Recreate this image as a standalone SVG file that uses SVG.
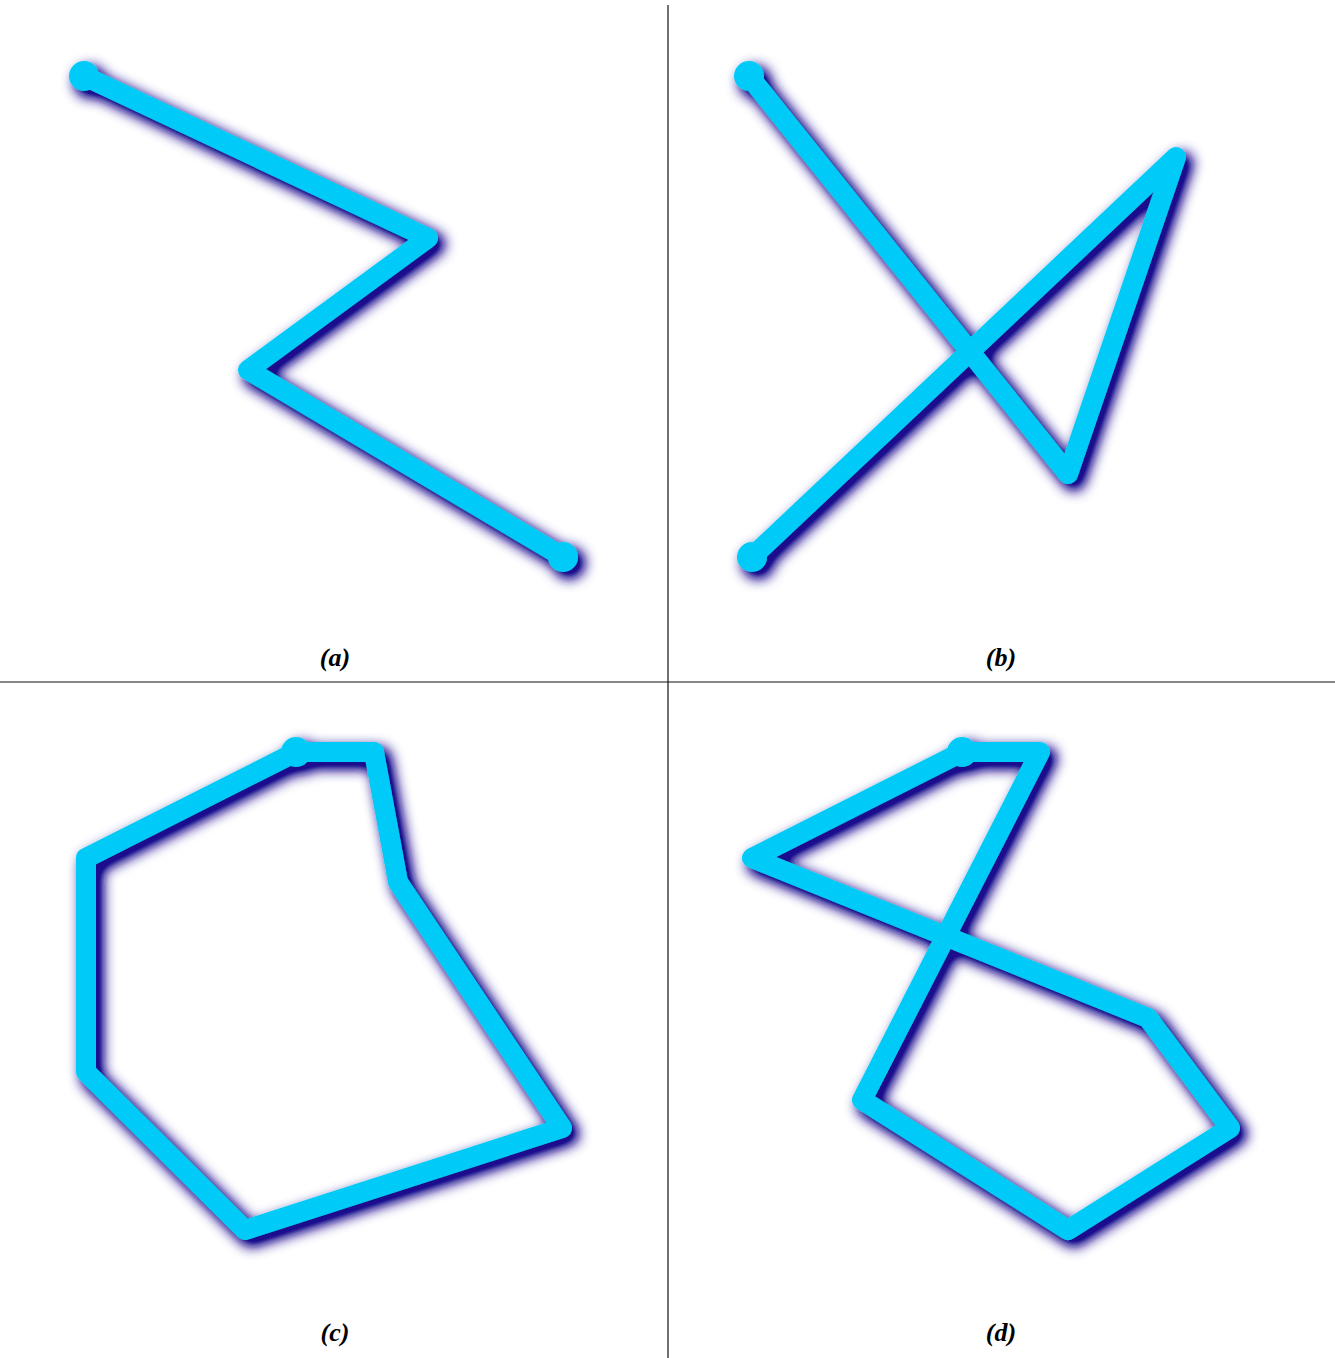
<svg xmlns="http://www.w3.org/2000/svg" width="1335" height="1358" viewBox="0 0 1335 1358">
<style>
.path{fill:none;stroke:#00cbf8;stroke-width:20;stroke-linejoin:round;stroke-linecap:round}
.dot{fill:#00cbf8}
.lbl{font-family:"Liberation Serif","Times New Roman",serif;font-weight:bold;font-style:italic;font-size:26px;text-anchor:middle;fill:#000}
.div{stroke:#111;stroke-width:1.2}
</style>
<defs>
<filter id="sh" x="-20%" y="-20%" width="140%" height="140%">
<feGaussianBlur in="SourceAlpha" stdDeviation="7" result="b"/>
<feOffset in="b" dx="6" dy="6" result="o"/>
<feComponentTransfer in="o" result="oa"><feFuncA type="linear" slope="1.5"/></feComponentTransfer>
<feFlood flood-color="#1a0c8e"/>
<feComposite in2="oa" operator="in" result="s"/>
<feMerge><feMergeNode in="s"/><feMergeNode in="SourceGraphic"/></feMerge>
</filter>
</defs>
<rect width="1335" height="1358" fill="#fff"/>
<g id="dividers">
<line class="div" x1="668" y1="5" x2="668" y2="1358"/>
<line class="div" x1="0" y1="682" x2="1335" y2="682"/>
</g>
<g id="a" filter="url(#sh)">
<polyline class="path" points="84,76 428,238 248,370 563,557"/>
<circle class="dot" cx="84" cy="76" r="15"/>
<circle class="dot" cx="563" cy="557" r="15"/>
</g>
<g id="b" filter="url(#sh)">
<polyline class="path" points="749,76 1068,474 1176,157 752,557"/>
<circle class="dot" cx="749" cy="76" r="15"/>
<circle class="dot" cx="752" cy="557" r="15"/>
</g>
<g id="c" filter="url(#sh)">
<polygon class="path" points="296,752 374,752 398,882 562,1128 245,1230 86,1072 86,858"/>
<circle class="dot" cx="296" cy="752" r="15"/>
</g>
<g id="d" filter="url(#sh)">
<polygon class="path" points="962,752 1040,752 862,1100 1068,1230 1230,1128 1148,1018 752,858"/>
<circle class="dot" cx="962" cy="752" r="15"/>
</g>
<g id="labels">
<text class="lbl" x="335" y="666">(a)</text>
<text class="lbl" x="1001" y="666">(b)</text>
<text class="lbl" x="335" y="1341">(c)</text>
<text class="lbl" x="1001" y="1341">(d)</text>
</g>
</svg>
